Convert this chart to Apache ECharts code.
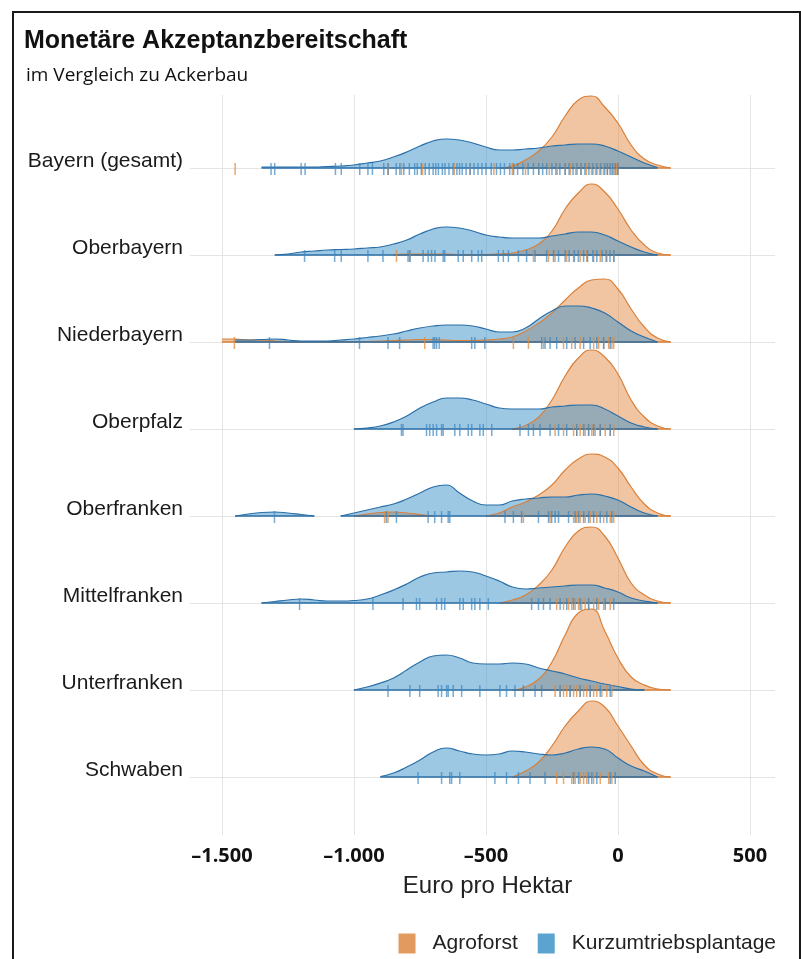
<!DOCTYPE html>
<html>
<head>
<meta charset="utf-8">
<script src="https://cdn.jsdelivr.net/npm/echarts@6/dist/echarts.min.js"></script>
<style>
  html, body { margin: 0; padding: 0; background: #fff; }
  #chart { width: 801px; height: 959px; }
</style>
</head>
<body>
<div id="chart"></div>
<script>
const regions = ["Bayern (gesamt)", "Oberbayern", "Niederbayern", "Oberpfalz",
  "Oberfranken", "Mittelfranken", "Unterfranken", "Schwaben"];
const groups = ["Agroforst", "Kurzumtriebsplantage"];
const xTicks = [-1500, -1000, -500, 0, 500];

// Euro pro Hektar, Stützstellen der Dichtekurven
const densityX = [
  -1500, -1450, -1400, -1350, -1300,
  -1250, -1200, -1150, -1100, -1050,
  -1000, -950, -900, -850, -800,
  -750, -700, -650, -600, -550,
  -500, -450, -400, -350, -300,
  -250, -200, -150, -100, -50,
  0, 50, 100, 150, 200
];

// Dichte (skaliert), null = keine Kurve
const agroBayern = [
  null, null, null, null, null,
  null, null, null, null, null,
  null, null, null, null, null,
  null, null, null, null, null,
  null, 0, 2, 8, 17,
  31, 52, 68, 72, 61,
  45, 23, 9, 3, 0
];
const kupBayern = [
  null, null, null, 1, 1,
  1, 1, 1, 1.5, 2,
  3, 5, 7, 11, 16,
  22, 27, 29, 28, 25,
  21, 18, 18, 19, 20,
  22, 23, 24, 24, 22,
  17, 11, 5, 0.5, null
];
const agroOberbayern = [
  null, null, null, null, null,
  null, null, null, null, null,
  null, null, null, 0, 1,
  1, 1, 1, 0.5, 0.5,
  0.5, 1, 2, 5, 11,
  24, 46, 62, 71, 63,
  46, 25, 10, 2, 0
];
const kupOberbayern = [
  null, null, null, null, 0,
  1, 3, 4, 5, 5.5,
  6, 7, 8, 11, 15,
  21, 26, 28, 27, 24,
  20, 18, 17, 17, 17,
  19, 21, 23, 23, 20,
  14, 8, 3, 0, null
];
const agroNiederbayern = [
  3, 3, 2, 2, 1,
  0.5, 0.3, 0.3, 0.3, 0.3,
  0.3, 0.5, 0.8, 1.5, 2,
  2.5, 2.5, 2, 1.5, 1.5,
  2, 3, 5, 11, 19,
  29, 42, 54, 62, 63,
  53, 33, 15, 4, 0
];
const kupNiederbayern = [
  null, 2, 2, 2.5, 3,
  2, 1, 1, 1, 2,
  3, 4.5, 6, 8, 11,
  14, 16, 17, 17, 16,
  13, 10, 10, 14, 23,
  31, 36, 36, 34, 29,
  20, 11, 5, 0, null
];
const agroOberpfalz = [
  null, null, null, null, null,
  null, null, null, null, null,
  null, null, null, null, null,
  null, null, null, null, null,
  null, null, 0, 3.5, 12,
  29, 53, 71, 79, 72,
  55, 29, 12, 3, 0
];
const kupOberpfalz = [
  null, null, null, null, null,
  null, null, null, null, null,
  0, 1, 3, 7, 13,
  21, 27, 31, 31, 29,
  25, 21, 20, 20, 20,
  22, 23, 24, 24, 20,
  13, 6, 2, 0, null
];
const agroOberfranken = [
  null, null, null, null, null,
  null, null, null, null, null,
  0, 2, 3.5, 4, 3,
  1.5, 0, null, null, null,
  0, 3, 9, 14, 21,
  31, 46, 57, 62, 59,
  48, 29, 12, 3, 0
];
const kupOberfranken = [
  null, 0, 2, 3.5, 4,
  3, 1.5, 0, null, 0,
  3, 6, 9, 12, 17,
  23, 29, 31, 23, 15,
  11, 11, 15, 17, 18,
  19, 19, 21, 22, 20,
  16, 9, 3, 0, null
];
const agroMittelfranken = [
  null, null, null, null, null,
  null, null, null, null, null,
  null, null, null, null, null,
  null, null, null, null, null,
  null, 0, 3, 8, 18,
  33, 56, 72, 76, 67,
  45, 20, 8, 2, 0
];
const kupMittelfranken = [
  null, null, null, 0, 1.5,
  3, 4, 3, 2, 2,
  2.5, 4, 8, 13, 19,
  26, 30, 31, 32, 31,
  27, 22, 16, 14, 15,
  16, 17, 18, 18, 15,
  11, 5, 2, 0, null
];
const agroUnterfranken = [
  null, null, null, null, null,
  null, null, null, null, null,
  null, null, null, null, null,
  null, null, null, null, null,
  null, null, 0, 3, 11,
  28, 55, 77, 81, 59,
  32, 13, 5, 1, 0
];
const kupUnterfranken = [
  null, null, null, null, null,
  null, null, null, null, null,
  0, 3, 7, 12, 20,
  28, 34, 35, 32, 27,
  26, 26, 27, 26, 22,
  19, 16, 12, 9, 6,
  3.5, 1, 0, null, null
];
const agroSchwaben = [
  null, null, null, null, null,
  null, null, null, null, null,
  null, null, null, null, null,
  null, null, null, null, null,
  null, null, 0, 6, 15,
  31, 51, 66, 76, 70,
  51, 31, 12, 3, 0
];
const kupSchwaben = [
  null, null, null, null, null,
  null, null, null, null, null,
  null, null, 0.5, 4, 10,
  17, 25, 29, 26, 23,
  22, 23, 26, 25, 23,
  22, 24, 28, 30, 28,
  19, 11, 6, 0, null
];

// Einzelwerte (Rug)
const rugAgroBayern = [-1450, -870, -820, -740, -620, -560, -470, -400, -350, -300, -260, -230, -200,
  -180, -160, -140, -120, -100, -85, -70, -55, -40, -25, -15, -5, 0];
const rugKupBayern = [-1314, -1300, -1200, -1185, -1070, -1048, -978, -947, -930, -887, -871, -840, -826,
  -811, -790, -770, -760, -745, -730, -715, -700, -690, -680, -665, -655, -640, -625, -610, -600, -590,
  -575, -560, -545, -530, -515, -500, -480, -460, -445, -430, -410, -395, -380, -360, -340, -320, -300,
  -285, -270, -250, -235, -220, -200, -185, -170, -155, -140, -125, -110, -95, -80, -65, -50, -40, -30,
  -20, -10, 0];
const rugAgroOberbayern = [-839, -788, -320, -263, -238, -194, -168, -143, -118, -92, -67, -42, -16];
const rugKupOberbayern = [-1187, -1073, -1048, -947, -890, -795, -788, -738, -719, -706, -693, -662, -656,
  -605, -586, -554, -529, -516, -453, -434, -415, -377, -346, -314, -270, -244, -225, -200, -185, -165,
  -150, -130, -115, -95, -80, -60, -45, -30, -15];
const rugAgroNiederbayern = [-1453, -732, -396, -339, -282, -206, -175, -143, -92, -73, -54, -35, -23, -16];
const rugKupNiederbayern = [-1320, -979, -871, -827, -700, -694, -687, -677, -554, -542, -504, -289, -276,
  -257, -232, -194, -162, -130, -105, -80, -54, -29];
const rugAgroOberpfalz = [-238, -206, -168, -156, -143, -124, -111, -99, -86, -67, -48, -29, -16];
const rugKupOberpfalz = [-820, -814, -725, -713, -700, -687, -668, -662, -618, -599, -567, -554, -523, -510,
  -478, -371, -339, -320, -295, -257, -225, -194, -156, -130, -111, -92, -67, -29];
const rugAgroOberfranken = [-884, -871, -358, -257, -168, -156, -143, -124, -105, -80, -54, -29, -16];
const rugKupOberfranken = [-1301, -877, -839, -719, -694, -668, -643, -637, -428, -396, -365, -301, -263,
  -251, -238, -225, -187, -162, -149, -130, -111, -92, -67, -42, -23];
const rugAgroMittelfranken = [-232, -206, -187, -175, -162, -149, -137, -124, -111, -92, -73, -54, -29];
const rugKupMittelfranken = [-1206, -928, -814, -763, -751, -687, -668, -656, -599, -586, -554, -542, -523,
  -491, -327, -301, -282, -257, -219, -194, -168, -143, -111, -80, -48, -16];
const rugAgroUnterfranken = [-238, -219, -206, -194, -181, -168, -156, -143, -130, -118, -105, -92, -80,
  -61, -42, -23];
const rugKupUnterfranken = [-871, -788, -751, -681, -668, -649, -643, -624, -592, -523, -447, -422, -390,
  -358, -314, -289, -219, -181, -143, -105, -67, -29];
const rugAgroSchwaben = [-232, -206, -175, -162, -143, -130, -118, -92, -67, -35, -23];
const rugKupSchwaben = [-757, -668, -637, -630, -599, -466, -422, -377, -333, -276, -168, -149, -111, -99,
  -80, -29, -10];

const agroDensity = [agroBayern, agroOberbayern, agroNiederbayern, agroOberpfalz,
  agroOberfranken, agroMittelfranken, agroUnterfranken, agroSchwaben];
const kupDensity = [kupBayern, kupOberbayern, kupNiederbayern, kupOberpfalz,
  kupOberfranken, kupMittelfranken, kupUnterfranken, kupSchwaben];
const agroRug = [rugAgroBayern, rugAgroOberbayern, rugAgroNiederbayern, rugAgroOberpfalz,
  rugAgroOberfranken, rugAgroMittelfranken, rugAgroUnterfranken, rugAgroSchwaben];
const kupRug = [rugKupBayern, rugKupOberbayern, rugKupNiederbayern, rugKupOberpfalz,
  rugKupOberfranken, rugKupMittelfranken, rugKupUnterfranken, rugKupSchwaben];

const ROW = 87;
const LABEL_LIFT = 7;
const colors = {
  agro: { line: "#d9803a", fill: "#e48c46", rug: "#e08a3e", legend: "#e39a5e" },
  kup: { line: "#2a6fa8", fill: "#3c91c8", rug: "#3a86c0", legend: "#5ba4cf" }
};
const FONT = "Liberation Sans, Arial, sans-serif";

const chart = echarts.init(document.getElementById("chart"));

const baseOf = (i) => (regions.length - 1 - i) * ROW;
const curve = (arr, b) => densityX.map((x, k) => [x, arr[k] == null ? "-" : b + arr[k]]);
const floor = (arr, b) => densityX.map((x, k) => [x, arr[k] == null ? "-" : b]);
const fmtEuro = (v) => (v < 0 ? "\u2013" : "") + String(Math.abs(v)).replace(/\B(?=(\d{3})+(?!\d))/g, ".");

const series = [];

// Gitterlinien
series.push({
  type: "line",
  name: "grid",
  data: [[xTicks[0], baseOf(0)]],
  symbol: "none",
  silent: true,
  z: 0,
  markLine: {
    silent: true,
    z: 0,
    symbol: ["none", "none"],
    label: { show: false },
    lineStyle: { color: "#e4e4e4", width: 1, type: "solid" },
    emphasis: { disabled: true },
    data: [
      ...xTicks.map((v) => ({ xAxis: v })),
      ...regions.map((r, i) => ({ yAxis: baseOf(i) }))
    ]
  }
});

const ridge = (name, arr, b, c) => {
  series.push({
    type: "line",
    name,
    data: curve(arr, b),
    smooth: 0.5,
    symbol: "none",
    silent: true,
    lineStyle: { color: c.line, width: 1.2 },
    itemStyle: { color: c.legend },
    areaStyle: { color: c.fill, opacity: 0.5, origin: b },
    z: 2
  });
  series.push({
    type: "line",
    name,
    data: floor(arr, b),
    symbol: "none",
    silent: true,
    lineStyle: { color: c.line, width: 1.4 },
    itemStyle: { color: c.legend },
    z: 2
  });
};

regions.forEach((r, i) => {
  const b = baseOf(i);
  ridge(groups[0], agroDensity[i], b, colors.agro);
  ridge(groups[1], kupDensity[i], b, colors.kup);
});

regions.forEach((r, i) => {
  const b = baseOf(i);
  series.push({
    type: "scatter",
    name: groups[0],
    data: agroRug[i].map((v) => [v, b - 1]),
    symbol: "rect",
    symbolSize: [1.5, 12],
    silent: true,
    itemStyle: { color: colors.agro.rug, opacity: 0.75 },
    z: 4
  });
  series.push({
    type: "scatter",
    name: groups[1],
    data: kupRug[i].map((v) => [v, b - 1]),
    symbol: "rect",
    symbolSize: [1.5, 12],
    silent: true,
    itemStyle: { color: colors.kup.rug, opacity: 0.7 },
    z: 4
  });
});

const option = {
  backgroundColor: "#fff",
  animation: false,
  title: [
    {
      text: "Monetäre Akzeptanzbereitschaft",
      left: 24, top: 29, padding: 0,
      textStyle: { fontFamily: FONT, fontWeight: "bold", fontSize: 25, color: "#111" }
    },
    {
      text: "im Vergleich zu Ackerbau",
      left: 26, top: 66, padding: 0,
      textStyle: { fontFamily: "Open Sans", fontWeight: "normal", fontSize: 19, color: "#111" }
    }
  ],
  legend: {
    right: 25, top: 933, padding: 0,
    itemWidth: 17, itemHeight: 20, itemGap: 20,
    selectedMode: false,
    data: [
      { name: groups[0], icon: "rect", itemStyle: { color: colors.agro.legend, borderWidth: 0 } },
      { name: groups[1], icon: "rect", itemStyle: { color: colors.kup.legend, borderWidth: 0 } }
    ],
    textStyle: { fontFamily: FONT, fontSize: 21, color: "#222", padding: [0, 0, 0, 12] }
  },
  graphic: [{
    type: "rect",
    silent: true,
    z: 100,
    shape: { x: 13, y: 12, width: 787, height: 960 },
    style: { fill: "none", stroke: "#1a1a1a", lineWidth: 2 }
  }],
  grid: { left: 190, right: 26, top: 95, bottom: 124, containLabel: false, outerBoundsMode: "none" },
  xAxis: {
    type: "value",
    min: -1621,
    max: 595,
    axisLine: { show: false },
    axisTick: { show: false },
    splitLine: { show: false },
    axisLabel: {
      customValues: xTicks,
      formatter: fmtEuro,
      margin: 11,
      fontFamily: "Open Sans",
      fontWeight: "bold",
      fontSize: 20,
      color: "#111"
    },
    name: "Euro pro Hektar",
    nameLocation: "middle",
    nameGap: 39,
    nameTextStyle: { fontFamily: FONT, fontSize: 24, color: "#222", padding: [0, 0, 0, 10] }
  },
  yAxis: {
    type: "value",
    min: -58,
    max: 682,
    axisLine: { show: false },
    axisTick: { show: false },
    splitLine: { show: false },
    axisLabel: {
      customValues: regions.map((r, i) => baseOf(i) + LABEL_LIFT),
      formatter: (v) => regions[regions.length - 1 - Math.round((v - LABEL_LIFT) / ROW)],
      margin: 7,
      fontFamily: FONT,
      fontSize: 21,
      color: "#1a1a1a"
    }
  },
  series
};

chart.setOption(option);
</script>
</body>
</html>
